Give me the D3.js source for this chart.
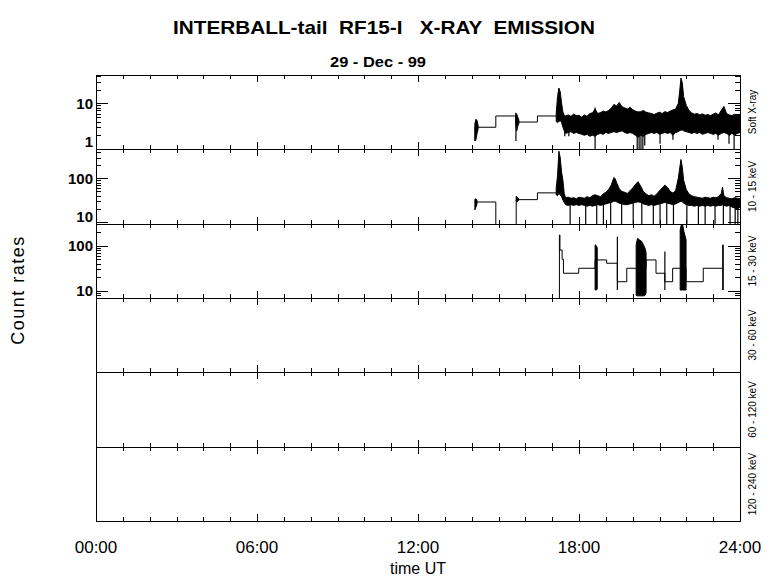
<!DOCTYPE html>
<html lang="en">
<head>
<meta charset="utf-8">
<title>INTERBALL-tail RF15-I X-ray emission</title>
<script src="https://cdnjs.cloudflare.com/ajax/libs/d3/7.8.5/d3.min.js"></script>
<style>
  body { margin: 0; background: #fff; }
  text { font-family: "Liberation Sans", Arial, sans-serif; fill: #000; }
  .tick line { shape-rendering: crispEdges; }
  .frame { fill: none; stroke: #000; stroke-width: 1; shape-rendering: crispEdges; }
</style>
</head>
<body>
<div id="chart"></div>
<script>

// channels, one panel each
var channels = ["Soft X-ray", "10 - 15 keV", "15 - 30 keV", "30 - 60 keV", "60 - 120 keV", "120 - 240 keV"];
var yDomains = [[1, 42], [9, 470], [7, 300], null, null, null];
var yMajor = [[1, 10], [10, 100], [10, 100], [], [], []];

var hourTicks = [0, 6, 12, 18, 24];
var hourLabels = ["00:00", "06:00", "12:00", "18:00", "24:00"];

// step parts: [hour UT, count rate]
var steps1 = [[14.12, 3.0], [14.9, 5.3], [15.66, 3.9], [16.45, 5.3], [17.15, 5.3]];
var steps2 = [[14.12, 28.7], [14.9, 5], [15.66, 32.5], [16.45, 46.5], [17.15, 46.5]];
var steps3 = [[17.26, 5], [17.27, 172], [17.29, 80], [17.37, 50], [17.42, 24.6], [17.99, 31.7],
  [18.6, 48.4], [19.03, 40.9], [19.43, 16], [19.78, 31.7], [20.13, 31.7], [20.5, 48.4],
  [20.87, 24.6], [21.2, 16], [21.49, 31.7], [21.77, 31.7], [21.99, 16], [22.63, 31.7], [23.36, 31.7]];

// noisy parts: [hour UT, low, high]
var band1 = [[14.12, 1.5, 3.6], [14.16, 1.6, 4.5], [14.2, 2.2, 4.2], [14.24, 2.7, 3.3], null,
  [15.64, 3.5, 6.2], [15.68, 2.5, 5.8], [15.72, 3.2, 5.0], [15.76, 3.6, 4.3], null,
  [17.15, 4.0, 6.0], [17.2, 3.8, 14], [17.25, 4.0, 21.7], [17.3, 4.2, 18], [17.35, 3.8, 10.2],
  [17.4, 3.0, 6.5], [17.45, 2.5, 5.5], [17.5, 2.2, 5.3], [17.6, 2.3, 5.6], [17.7, 2.4, 5.2],
  [17.8, 2.2, 5.8], [17.9, 2.3, 5.4], [18.0, 2.2, 5.5], [18.1, 2.1, 5.0], [18.2, 2.0, 5.6],
  [18.3, 2.1, 5.2], [18.4, 1.9, 6.0], [18.5, 2.0, 6.2], [18.6, 1.9, 7.5], [18.7, 2.1, 6.0],
  [18.8, 2.2, 6.3], [18.9, 2.1, 6.8], [19.0, 2.3, 6.5], [19.1, 2.2, 7.0], [19.2, 2.3, 7.8],
  [19.3, 2.4, 9.5], [19.4, 2.3, 8.8], [19.5, 2.4, 10.5], [19.6, 2.5, 8.5], [19.7, 2.3, 8.0],
  [19.8, 2.2, 7.5], [19.9, 2.3, 8.2], [20.0, 2.2, 7.3], [20.1, 2.0, 6.8], [20.2, 1.8, 6.5],
  [20.3, 2.0, 6.6], [20.4, 1.9, 7.0], [20.5, 2.1, 6.4], [20.6, 2.2, 6.2], [20.7, 2.3, 6.0],
  [20.8, 2.2, 5.7], [20.9, 2.3, 6.1], [21.0, 2.1, 6.4], [21.1, 2.2, 6.0], [21.2, 2.3, 6.6],
  [21.3, 2.2, 6.3], [21.4, 2.3, 6.8], [21.5, 2.0, 7.2], [21.6, 2.3, 7.5], [21.7, 2.4, 10],
  [21.75, 2.5, 18], [21.8, 2.6, 36], [21.85, 2.6, 28], [21.9, 2.5, 14], [22.0, 2.4, 9.0],
  [22.1, 2.3, 7.0], [22.2, 2.2, 6.2], [22.3, 2.3, 5.8], [22.4, 2.2, 6.0], [22.5, 2.3, 5.6],
  [22.6, 2.1, 5.9], [22.7, 2.2, 5.5], [22.8, 2.3, 5.7], [22.9, 2.2, 5.4], [23.0, 2.1, 5.8],
  [23.1, 2.2, 6.2], [23.2, 2.0, 5.6], [23.3, 2.2, 7.0], [23.4, 2.3, 8.6], [23.5, 2.2, 6.0],
  [23.6, 2.0, 5.6], [23.7, 2.2, 5.4], [23.8, 2.0, 5.8], [23.9, 2.2, 5.5], [24.0, 2.3, 5.6]];

var band2 = [[14.12, 19, 33], [14.16, 22, 34], [14.2, 26, 31], null,
  [15.66, 30, 39], [15.7, 29, 37], [15.74, 31, 35], null,
  [17.15, 42, 60], [17.2, 40, 115], [17.25, 45, 418], [17.3, 42, 300], [17.35, 38, 140],
  [17.4, 32, 90], [17.45, 28, 45], [17.5, 25, 36], [17.6, 24, 37], [17.7, 25, 35],
  [17.8, 24, 36], [17.9, 25, 34], [18.0, 24, 37], [18.1, 25, 36], [18.2, 24, 35],
  [18.3, 23, 38], [18.4, 24, 36], [18.5, 23, 40], [18.6, 24, 42], [18.7, 25, 40],
  [18.8, 24, 38], [18.9, 25, 44], [19.0, 26, 48], [19.1, 27, 55], [19.2, 28, 70],
  [19.3, 30, 104], [19.35, 30, 98], [19.4, 29, 80], [19.5, 27, 58], [19.6, 26, 50],
  [19.7, 25, 48], [19.8, 25, 45], [19.9, 26, 52], [20.0, 27, 60], [20.1, 28, 72],
  [20.2, 29, 84], [20.3, 28, 66], [20.4, 26, 50], [20.5, 25, 44], [20.6, 24, 40],
  [20.7, 25, 42], [20.8, 24, 39], [20.9, 25, 44], [21.0, 26, 52], [21.1, 27, 60],
  [21.2, 28, 70], [21.3, 27, 62], [21.4, 26, 50], [21.5, 25, 46], [21.6, 26, 52],
  [21.7, 28, 100], [21.8, 30, 270], [21.85, 29, 180], [21.9, 27, 90], [22.0, 25, 55],
  [22.1, 24, 44], [22.2, 24, 40], [22.3, 23, 38], [22.4, 24, 37], [22.5, 23, 36],
  [22.6, 24, 35], [22.7, 23, 37], [22.8, 24, 36], [22.9, 23, 35], [23.0, 24, 37],
  [23.1, 23, 36], [23.2, 24, 38], [23.3, 24, 45], [23.35, 25, 63], [23.4, 24, 40],
  [23.5, 23, 36], [23.6, 24, 35], [23.7, 22, 34], [23.8, 21, 36], [23.9, 20, 35], [24.0, 22, 34]];

var band3 = [[18.6, 10.5, 104], [18.64, 10.5, 100], [18.68, 11, 90], null,
  [20.13, 8, 104], [20.18, 7.8, 145], [20.25, 7.8, 134], [20.34, 7.8, 123], [20.4, 7.8, 104],
  [20.46, 8, 88], [20.5, 9, 70], null,
  [21.77, 10.5, 222], [21.81, 10.5, 285], [21.86, 10.5, 300], [21.91, 10.5, 204], [21.99, 10.5, 134]];

// single drop-outs and spikes: [hour UT, low, high]
var spikes1 = [[14.13, 1.5, 3.0], [15.65, 1.5, 5.3], [17.47, 1.9, 4], [17.62, 1.9, 4], [18.6, 1.0, 4],
  [18.6, 4, 8.1], [20.17, 1.0, 4], [20.24, 1.0, 4], [20.31, 1.0, 4], [20.38, 1.0, 4], [20.45, 1.2, 4],
  [21.02, 1.3, 4], [21.5, 1.6, 4], [23.18, 1.6, 4], [23.59, 1.3, 4], [23.78, 1.0, 4]];
var spikes2 = [[17.67, 5, 30], [18.25, 5, 30], [18.66, 5, 30], [18.91, 5, 30], [19.18, 5, 30],
  [19.59, 5, 30], [20.02, 5, 30], [20.34, 5, 30], [20.77, 5, 30], [21.02, 5, 30], [21.27, 5, 30],
  [21.52, 5, 30], [22.02, 5, 30], [22.45, 5, 30], [22.7, 5, 30], [23.07, 5, 30], [23.38, 5, 30],
  [23.63, 5, 30], [23.82, 5, 30], [23.92, 5, 30]];
var spikes3 = [[19.43, 10.5, 157], [21.2, 10.5, 74], [23.36, 10.5, 104], [23.37, 10.5, 104]];

var stepsAll = [steps1, steps2, steps3, [], [], []];
var bandsAll = [band1, band2, band3, [], [], []];
var spikesAll = [spikes1, spikes2, spikes3, [], [], []];

var width = 780, height = 579;

var svg = d3.select("#chart").append("svg")
  .attr("width", width)
  .attr("height", height);

var x = d3.scaleLinear().domain([0, 24]).range([96, 740]);
var py = d3.scaleLinear().domain([0, 6]).range([75, 521]);

channels.forEach(function(name, i) {
  var top = Math.round(py(i)), bot = Math.round(py(i + 1)), h = bot - top;
  var g = svg.append("g").attr("transform", "translate(0," + top + ")");

  g.append("clipPath").attr("id", "clip" + i)
    .append("rect").attr("x", x(0)).attr("y", 0).attr("width", x(24) - x(0)).attr("height", h);

  if (yDomains[i]) {
    var y = d3.scaleLog().domain(yDomains[i]).range([h, 0]);
    var data = g.append("g").attr("clip-path", "url(#clip" + i + ")");

    var area = d3.area()
      .defined(function(d) { return d; })
      .x(function(d) { return x(d[0]); })
      .y0(function(d) { return y(d[1]); })
      .y1(function(d) { return y(d[2]); });
    data.append("path")
      .attr("d", area(bandsAll[i]))
      .attr("fill", "#000").attr("stroke", "#000").attr("stroke-width", 1);

    var line = d3.line().curve(d3.curveStepAfter)
      .x(function(d) { return x(d[0]); })
      .y(function(d) { return y(d[1]); });
    data.append("path")
      .attr("d", line(stepsAll[i]))
      .attr("fill", "none").attr("stroke", "#000").attr("stroke-width", 1);

    data.selectAll("line.spike").data(spikesAll[i]).enter().append("line")
      .attr("class", "spike")
      .attr("x1", function(d) { return x(d[0]); })
      .attr("x2", function(d) { return x(d[0]); })
      .attr("y1", function(d) { return y(d[1]); })
      .attr("y2", function(d) { return y(d[2]); })
      .attr("stroke", "#000").attr("stroke-width", 1.2);

    // y ticks, left and right, pointing inward
    var minor = y.ticks().filter(function(v) { return yMajor[i].indexOf(v) < 0; });
    [[d3.axisLeft, x(0)], [d3.axisRight, x(24)]].forEach(function(a) {
      g.append("g").attr("transform", "translate(" + a[1] + ",0)")
        .call(a[0](y).tickValues(minor).tickSize(-5).tickFormat(""))
        .select(".domain").remove();
      g.append("g").attr("transform", "translate(" + a[1] + ",0)")
        .call(a[0](y).tickValues(yMajor[i]).tickSize(-12).tickFormat(""))
        .select(".domain").remove();
    });

    g.selectAll("text.ylab").data(yMajor[i]).enter().append("text")
      .attr("class", "ylab")
      .attr("x", x(0) - 3)
      .attr("y", function(v) { return Math.min(y(v), h - 7); })
      .attr("dy", "0.36em")
      .attr("text-anchor", "end")
      .attr("font-size", 15)
      .attr("font-weight", "bold")
      .text(function(v) { return v; });
  }

  // time ticks on top and bottom edge of every panel
  [[d3.axisTop, 0], [d3.axisBottom, h]].forEach(function(a) {
    g.append("g").attr("transform", "translate(0," + a[1] + ")")
      .call(a[0](x).tickValues(d3.range(0, 25)).tickSize(-4).tickFormat(""))
      .select(".domain").remove();
    g.append("g").attr("transform", "translate(0," + a[1] + ")")
      .call(a[0](x).tickValues(hourTicks).tickSize(-7).tickFormat(""))
      .select(".domain").remove();
  });

  g.append("rect").attr("class", "frame")
    .attr("x", x(0)).attr("y", 0)
    .attr("width", x(24) - x(0)).attr("height", h);

  g.append("text")
    .attr("transform", "translate(752," + (h / 2) + ") rotate(-90)")
    .attr("text-anchor", "middle")
    .attr("dy", "0.35em")
    .attr("font-size", 10)
    .text(name);
});

// time labels
svg.selectAll("text.xlab").data(hourTicks).enter().append("text")
  .attr("class", "xlab")
  .attr("x", function(d) { return x(d); })
  .attr("y", 553)
  .attr("text-anchor", "middle")
  .attr("font-size", 17)
  .text(function(d, i) { return hourLabels[i]; });

svg.append("text")
  .attr("x", x(12)).attr("y", 574)
  .attr("text-anchor", "middle")
  .attr("font-size", 16)
  .text("time UT");

svg.append("text")
  .attr("transform", "translate(24,290) rotate(-90)")
  .attr("text-anchor", "middle")
  .attr("font-size", 18)
  .attr("letter-spacing", 1.5)
  .text("Count rates");

svg.append("text")
  .attr("x", 384).attr("y", 34)
  .attr("text-anchor", "middle")
  .attr("font-size", 19)
  .attr("font-weight", "bold")
  .attr("textLength", 422)
  .attr("lengthAdjust", "spacingAndGlyphs")
  .style("white-space", "pre")
  .text("INTERBALL-tail  RF15-I   X-RAY  EMISSION");

svg.append("text")
  .attr("x", 378).attr("y", 67)
  .attr("text-anchor", "middle")
  .attr("font-size", 15)
  .attr("font-weight", "bold")
  .attr("textLength", 96)
  .attr("lengthAdjust", "spacingAndGlyphs")
  .style("white-space", "pre")
  .text("29 - Dec - 99");

</script>
</body>
</html>
